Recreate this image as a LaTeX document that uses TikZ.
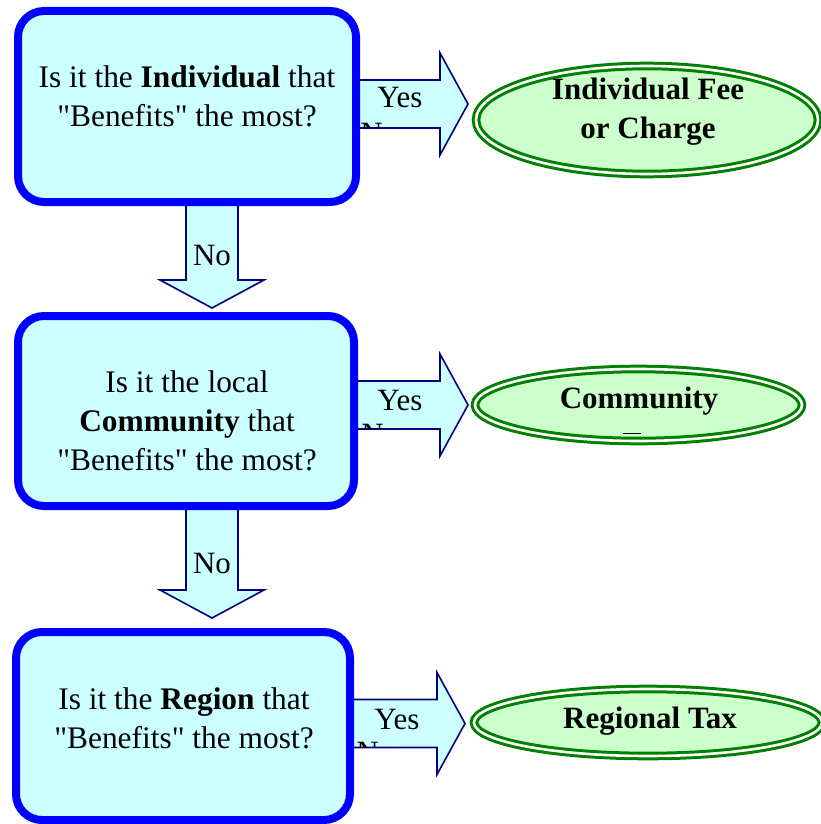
\documentclass[tikz,border=0pt]{standalone}
\usepackage{fontspec}
\setmainfont{Liberation Serif}[Ligatures=TeXOff]
\usetikzlibrary{calc,shapes.geometric,backgrounds}
\definecolor{boxfill}{HTML}{CCFFFF}
\definecolor{boxline}{HTML}{0000FF}
\definecolor{arrline}{HTML}{000080}
\definecolor{ellfill}{HTML}{CCFFCC}
\definecolor{ellline}{HTML}{008000}
\begin{document}
\begin{tikzpicture}[x=0.5pt,y=-0.5pt,
  qbox/.style={draw=boxline,fill=boxfill,line width=4pt,rounded corners=13pt,outer sep=0pt,inner sep=0pt},
  qtext/.style={align=center,font=\fontsize{15.7}{19.5}\selectfont,inner sep=0pt},
  ans/.style={ellipse,draw=ellline,double=white,line width=1.5pt,double distance=1.3pt,fill=ellfill,inner sep=0pt,outer sep=0pt},
  anstext/.style={align=center,font=\fontsize{15.5}{19.5}\selectfont\bfseries,inner sep=0pt},
  lbl/.style={font=\fontsize{15.5}{19}\selectfont,inner sep=0pt},
  barrow/.style={draw=arrline,fill=boxfill,line width=0.8pt,line join=miter},
  rarrow/.pic={\path[barrow] (0,-24) -- (85,-24) -- (85,-51) -- (113,0) -- (85,51) -- (85,24) -- (0,24) -- cycle;},
  darrow/.pic={\path[barrow] (-26,0) -- (-26,#1) -- (-52,#1) -- (0,#1+28) -- (52,#1) -- (26,#1) -- (26,0) -- cycle;},
]
\useasboundingbox (0,0) rectangle (820,824);

% question boxes
\node[qbox,minimum width=169pt,minimum height=95.5pt] (b1) at (187,106.5) {};
\node[qbox,minimum width=168pt,minimum height=95pt] (b2) at (186,411) {};
\node[qbox,minimum width=167pt,minimum height=94pt] (b3) at (183,726) {};

% answers
\node[ans,minimum width=171pt,minimum height=54pt] (e1) at (647,120) {};
\node[ans,minimum width=163.5pt,minimum height=36pt] (e2) at (638.5,405) {};
\node[ans,minimum width=174pt,minimum height=33.5pt] (e3) at (648,722.5) {};

% connector start points
\coordinate (r1) at ($(b1.east)+(-1,-2.5)$);
\coordinate (r2) at ($(b2.east)+(1,-6)$);
\coordinate (r3) at ($(b3.east)+(2,-2.5)$);
\coordinate (d1) at ($(b1.south)+(25,-2)$);
\coordinate (d2) at ($(b2.south)+(26,0)$);

\begin{scope}[on background layer]
  \pic at (r1) {rarrow};
  \pic at (r2) {rarrow};
  \pic at (r3) {rarrow};
  \pic at (d1) {darrow=80};
  \pic at (d2) {darrow=84};
\end{scope}

% clipped remnants of hidden labels
\begin{scope}
  \clip ($(r1)+(2,0)$) rectangle ($(r1)+(84,24)$);
  \node[lbl,anchor=north west] (n1) at ($(r1)+(5,18.5)$) {No};
\end{scope}
\begin{scope}
  \clip ($(r2)+(2,0)$) rectangle ($(r2)+(84,24)$);
  \node[lbl,anchor=north west] (n2) at ($(r2)+(6,18.5)$) {No};
\end{scope}
\begin{scope}
  \clip ($(r3)+(2,0)$) rectangle ($(r3)+(84,24)$);
  \node[lbl,anchor=north west] (n3) at ($(r3)+(4,18.5)$) {No};
\end{scope}

% texts
\node[qtext] (t1) at (187,96) {Is it the \textbf{Individual} that\\"Benefits" the most?};
\node[qtext] (t2) at (187,421) {Is it the local\\\textbf{Community} that\\"Benefits" the most?};
\node[qtext] (t3) at (184,718) {Is it the \textbf{Region} that\\"Benefits" the most?};

\node[lbl] (y1) at ($(r1)+(45,-6)$) {Yes};
\node[lbl] (y2) at ($(r2)+(45,-5)$) {Yes};
\node[lbl] (y3) at ($(r3)+(45,-4)$) {Yes};
\node[lbl] (o1) at ($(d1)+(0,55)$) {No};
\node[lbl] (o2) at ($(d2)+(0,57)$) {No};

\node[anstext] (a1) at (648,112) {Individual Fee\\or Charge};
\node[anstext] (a2) at (639,401) {Community};
\node[anstext] (a3) at (650,721) {Regional Tax};
\draw[line width=0.9pt] ($(a2.south)+(-16,18)$) coordinate (m1) -- ($(m1)+(18,0)$) coordinate (m2);
\end{tikzpicture}
\end{document}
